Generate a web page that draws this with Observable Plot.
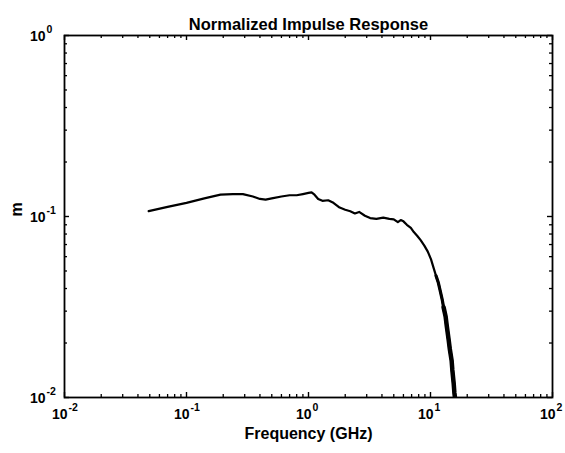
<!DOCTYPE html>
<html>
<head>
<meta charset="utf-8">
<script src="https://cdn.jsdelivr.net/npm/d3@7"></script>
<script src="https://cdn.jsdelivr.net/npm/@observablehq/plot@0.6"></script>
<style>
  html, body { margin: 0; padding: 0; background: #fff; }
  #chart svg { display: block; }
</style>
</head>
<body>
<div id="chart"></div>
<script>
// Frequency (GHz) and normalized impulse response magnitude
const freq = [0.049, 0.07, 0.1, 0.14, 0.19, 0.24, 0.29, 0.35, 0.40, 0.445, 0.5, 0.6, 0.7, 0.8, 0.9, 1.0, 1.06, 1.12, 1.2, 1.3, 1.45, 1.6, 1.8, 2.0, 2.2, 2.4, 2.6, 2.9, 3.2, 3.6, 4.1, 4.6, 5.0, 5.4, 5.7, 6.0, 6.4, 6.9, 7.3, 7.8, 8.3, 8.9, 9.5, 10.1, 10.6, 11.1,
  11.6, 12.0, 12.5, 12.8, 13.3, 13.6, 14.1, 14.4, 14.9, 15.1, 15.5, 15.7, 16.1];
const resp = [0.107, 0.113, 0.119, 0.126, 0.132, 0.133, 0.133, 0.129, 0.125, 0.124, 0.126, 0.129, 0.131, 0.131, 0.133, 0.135, 0.136, 0.132, 0.125, 0.122, 0.123, 0.119, 0.112, 0.109, 0.107, 0.104, 0.106, 0.101, 0.098, 0.097, 0.0985, 0.097, 0.0965, 0.093, 0.0955, 0.094, 0.090, 0.0865, 0.082, 0.078, 0.074, 0.069, 0.064, 0.058, 0.052, 0.047,
  0.043, 0.039, 0.0345, 0.0315, 0.028, 0.0248, 0.0207, 0.0185, 0.016, 0.0142, 0.0119, 0.0106, 0.0092];

const xMajor = [0.01, 0.1, 1, 10, 100];
const xExp = ["-2", "-1", "0", "1", "2"];
const yMajor = [0.01, 0.1, 1];
const yExp = ["-2", "-1", "0"];
const minorMult = [2, 3, 4, 5, 6, 7, 8, 9];
const xMinor = [0.01, 0.1, 1, 10].flatMap(d => minorMult.map(m => d * m));
const yMinor = [0.01, 0.1].flatMap(d => minorMult.map(m => d * m));

const title = "Normalized Impulse Response";
const xLabel = "Frequency (GHz)";
const yLabel = "m";

const data = freq.map((f, i) => ({f, m: resp[i]}));

const W = 565, H = 453;
const mt = 35, mb = 56, ml = 64, mr = 13;
const ih = H - mt - mb, iw = W - ml - mr;
const font = "Liberation Sans, Arial, Helvetica, sans-serif";
const maj = 5, mnr = 3;

const chart = Plot.plot({
  width: W, height: H,
  marginTop: mt, marginBottom: mb, marginLeft: ml, marginRight: mr,
  style: {fontFamily: font, background: "#fff", color: "#000"},
  x: {type: "log", domain: [0.01, 100], axis: null},
  y: {type: "log", domain: [0.01, 1], axis: null},
  marks: [
    Plot.frame({stroke: "#000", strokeWidth: 1.8}),
    // x ticks (bottom & top, inward)
    Plot.ruleX(xMajor, {x: d => d, insetTop: ih - maj, stroke: "#000", strokeWidth: 1.4}),
    Plot.ruleX(xMajor, {x: d => d, insetBottom: ih - maj, stroke: "#000", strokeWidth: 1.4}),
    Plot.ruleX(xMinor, {x: d => d, insetTop: ih - mnr, stroke: "#000", strokeWidth: 1.3}),
    Plot.ruleX(xMinor, {x: d => d, insetBottom: ih - mnr, stroke: "#000", strokeWidth: 1.3}),
    // y ticks (left & right, inward)
    Plot.ruleY(yMajor, {y: d => d, insetRight: iw - maj, stroke: "#000", strokeWidth: 1.4}),
    Plot.ruleY(yMajor, {y: d => d, insetLeft: iw - maj, stroke: "#000", strokeWidth: 1.4}),
    Plot.ruleY(yMinor, {y: d => d, insetRight: iw - mnr, stroke: "#000", strokeWidth: 1.3}),
    Plot.ruleY(yMinor, {y: d => d, insetLeft: iw - mnr, stroke: "#000", strokeWidth: 1.3}),
    // x tick labels
    Plot.text(xMajor, {x: d => d, frameAnchor: "bottom", dy: 21, dx: 3, text: () => "10", textAnchor: "end", fontSize: 14, fontWeight: "bold", fill: "#000"}),
    Plot.text(xMajor, {x: d => d, frameAnchor: "bottom", dy: 13, dx: 4, text: (d, i) => xExp[i], textAnchor: "start", fontSize: 10.5, fontWeight: "bold", fill: "#000"}),
    // y tick labels
    Plot.text(yMajor, {y: d => d, frameAnchor: "left", dx: -19, dy: 1.5, text: () => "10", textAnchor: "end", fontSize: 14, fontWeight: "bold", fill: "#000"}),
    Plot.text(yMajor, {y: d => d, frameAnchor: "left", dx: -18, dy: -5.5, text: (d, i) => yExp[i], textAnchor: "start", fontSize: 10.5, fontWeight: "bold", fill: "#000"}),
    // title and axis labels
    Plot.text([title], {frameAnchor: "top", dy: -17, text: d => d, fontSize: 16.5, fontWeight: "bold", fill: "#000"}),
    Plot.text([xLabel], {frameAnchor: "bottom", dy: 41, text: d => d, fontSize: 16, fontWeight: "bold", fill: "#000"}),
    Plot.text([yLabel], {frameAnchor: "left", dx: -48, text: d => d, rotate: -90, fontSize: 16, fontWeight: "bold", fill: "#000"}),
    // curve
    Plot.line(data, {x: "f", y: "m", stroke: "#000", strokeWidth: 2.2, strokeLinejoin: "round", strokeLinecap: "round", clip: true}),
    // noisy high-frequency tail drawn as progressively heavier strokes
    Plot.line(data.filter(d => d.f >= 11.1), {x: "f", y: "m", stroke: "#000", strokeWidth: 3.2, strokeLinejoin: "round", strokeLinecap: "round", clip: true}),
    Plot.line(data.filter(d => d.f >= 12.8), {x: "f", y: "m", stroke: "#000", strokeWidth: 4.5, strokeLinejoin: "round", strokeLinecap: "round", clip: true})
  ]
});
document.getElementById("chart").append(chart);
</script>
</body>
</html>
